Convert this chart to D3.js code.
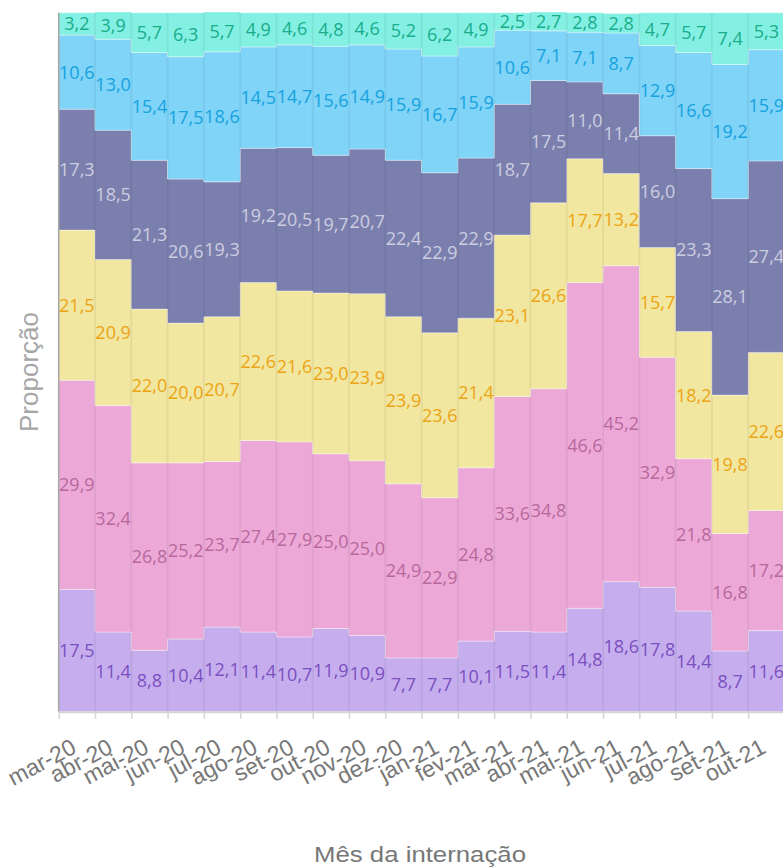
<!DOCTYPE html>
<html>
<head>
<meta charset="utf-8">
<script src="https://cdn.jsdelivr.net/npm/d3@7"></script>
<style>
  html, body { margin: 0; padding: 0; background: #fff; overflow: hidden; }
  svg { display: block; }
</style>
</head>
<body>
<svg id="chart"></svg>
<script>
// meses (eixo x)
const months = ["mar-20", "abr-20", "mai-20", "jun-20", "jul-20", "ago-20", "set-20", "out-20", "nov-20", "dez-20",
  "jan-21", "fev-21", "mar-21", "abr-21", "mai-21", "jun-21", "jul-21", "ago-21", "set-21", "out-21"];

// séries, de baixo para cima (%)
const serie1 = [17.5, 11.4, 8.8, 10.4, 12.1, 11.4, 10.7, 11.9, 10.9, 7.7, 7.7, 10.1, 11.5, 11.4, 14.8, 18.6, 17.8, 14.4, 8.7, 11.6];
const serie2 = [29.9, 32.4, 26.8, 25.2, 23.7, 27.4, 27.9, 25.0, 25.0, 24.9, 22.9, 24.8, 33.6, 34.8, 46.6, 45.2, 32.9, 21.8, 16.8, 17.2];
const serie3 = [21.5, 20.9, 22.0, 20.0, 20.7, 22.6, 21.6, 23.0, 23.9, 23.9, 23.6, 21.4, 23.1, 26.6, 17.7, 13.2, 15.7, 18.2, 19.8, 22.6];
const serie4 = [17.3, 18.5, 21.3, 20.6, 19.3, 19.2, 20.5, 19.7, 20.7, 22.4, 22.9, 22.9, 18.7, 17.5, 11.0, 11.4, 16.0, 23.3, 28.1, 27.4];
const serie5 = [10.6, 13.0, 15.4, 17.5, 18.6, 14.5, 14.7, 15.6, 14.9, 15.9, 16.7, 15.9, 10.6, 7.1, 7.1, 8.7, 12.9, 16.6, 19.2, 15.9];
const serie6 = [3.2, 3.9, 5.7, 6.3, 5.7, 4.9, 4.6, 4.8, 4.6, 5.2, 6.2, 4.9, 2.5, 2.7, 2.8, 2.8, 4.7, 5.7, 7.4, 5.3];

const seriesKeys = ["s1", "s2", "s3", "s4", "s5", "s6"];
const seriesValues = [serie1, serie2, serie3, serie4, serie5, serie6];
const fills = ["#c6aeee", "#eca9d8", "#f1e7a1", "#7b7fae", "#7fd4f7", "#84f0e3"];
const labelColors = ["#7a4fbf", "#b8689b", "#eca414", "#cdcde0", "#16a2df", "#19ad8a"];

const width = 783;
const height = 868;
const x0 = 58.7;
const step = 36.29;
const yTop = 12.7;
const yBottom = 711.7;

const svg = d3.select("#chart")
  .attr("width", width)
  .attr("height", height);

// linhas de dados para o stack
const rows = months.map((m, i) => {
  const r = { mes: m };
  seriesKeys.forEach((k, j) => { r[k] = seriesValues[j][i]; });
  return r;
});

const stacked = d3.stack().keys(seriesKeys)(rows);

const x = d3.scaleLinear()
  .domain([0, months.length])
  .range([x0, x0 + months.length * step]);

const y = d3.scaleLinear()
  .domain([0, 100])
  .range([yBottom, yTop]);

const fmt = d3.formatLocale({ decimal: ",", thousands: ".", grouping: [3], currency: ["R$", ""] }).format(".1f");

// áreas em degraus
const area = d3.area()
  .curve(d3.curveStepAfter)
  .x(d => x(d.i))
  .y0(d => y(d.y0))
  .y1(d => y(d.y1));

stacked.forEach((layer, j) => {
  const pts = layer.map((d, i) => ({ i: i, y0: d[0], y1: d[1] }));
  const last = pts[pts.length - 1];
  pts.push({ i: months.length, y0: last.y0, y1: last.y1 });
  svg.append("path")
    .datum(pts)
    .attr("d", area)
    .attr("fill", fills[j])
    .attr("stroke", "rgba(255,255,255,0.35)")
    .attr("stroke-width", 1);
});

// linhas verticais de grade
svg.append("g")
  .selectAll("line")
  .data(d3.range(months.length + 1))
  .enter().append("line")
  .attr("x1", d => x(d))
  .attr("x2", d => x(d))
  .attr("y1", yTop)
  .attr("y2", yBottom)
  .attr("stroke", "rgba(0,0,0,0.05)")
  .attr("stroke-width", 2);

// rótulos de valores
stacked.forEach((layer, j) => {
  svg.append("g")
    .selectAll("text")
    .data(layer)
    .enter().append("text")
    .attr("x", (d, i) => x(i + 0.5))
    .attr("y", d => y((d[0] + d[1]) / 2))
    .attr("dy", "0.36em")
    .attr("text-anchor", "middle")
    .attr("font-family", "'Open Sans', sans-serif")
    .attr("font-size", 18)
    .attr("fill", labelColors[j])
    .text(d => fmt(d[1] - d[0]));
});

// eixo y (só a linha)
svg.append("line")
  .attr("x1", x0).attr("x2", x0)
  .attr("y1", yTop).attr("y2", yBottom)
  .attr("stroke", "#a8a8a8")
  .attr("stroke-width", 1.5);

// eixo x
const xAxis = svg.append("g")
  .attr("transform", `translate(0,${yBottom})`)
  .call(d3.axisBottom(x)
    .tickValues(d3.range(months.length))
    .tickSize(7)
    .tickSizeOuter(0)
    .tickFormat(""));

xAxis.select(".domain").attr("stroke", "#d4d4d4").attr("stroke-width", 2);
xAxis.selectAll(".tick line").attr("stroke", "#d4d4d4").attr("stroke-width", 1.5);

svg.append("g")
  .selectAll("text")
  .data(months)
  .enter().append("text")
  .attr("transform", (d, i) => `translate(${x(i) + 19},${752}) rotate(-28)`)
  .attr("text-anchor", "end")
  .attr("font-family", "'Liberation Sans', Arial, sans-serif")
  .attr("font-size", 23)
  .attr("fill", "#777")
  .text(d => d);

// títulos dos eixos
svg.append("text")
  .attr("x", 420)
  .attr("y", 862)
  .attr("text-anchor", "middle")
  .attr("font-family", "'Liberation Sans', Arial, sans-serif")
  .attr("font-size", 22)
  .attr("textLength", 212)
  .attr("lengthAdjust", "spacingAndGlyphs")
  .attr("fill", "#777")
  .text("Mês da internação");

svg.append("text")
  .attr("transform", `translate(38,372) rotate(-90)`)
  .attr("text-anchor", "middle")
  .attr("font-family", "'Liberation Sans', Arial, sans-serif")
  .attr("font-size", 26)
  .attr("fill", "#a6a6a6")
  .text("Proporção");
</script>
</body>
</html>
